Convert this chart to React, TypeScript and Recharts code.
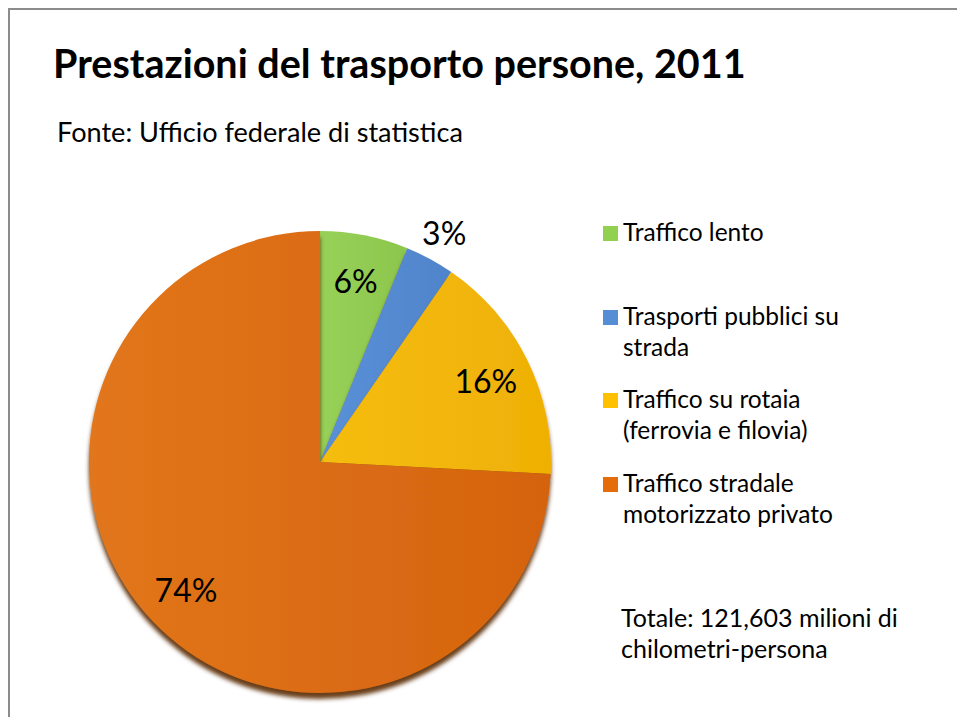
import { Cell, Legend, Pie, PieChart } from "recharts";

const categories = [
  "Traffico lento",
  "Trasporti pubblici su strada",
  "Traffico su rotaia (ferrovia e filovia)",
  "Traffico stradale motorizzato privato",
];
// milioni di chilometri-persona (stimati dalle quote del grafico)
const values = [7500, 4200, 19700, 90203];
const legendColors = ["#92d050", "#558ed5", "#ffc000", "#e46c0a"];
const sliceColors = [
  ["#97d159", "#8cc64c"],
  ["#5a91d8", "#4f84cb"],
  ["#f5bd10", "#efb005"],
  ["#e2761b", "#d5630e"],
];

const TITLE = "Prestazioni del trasporto persone, 2011";
const SUBTITLE = "Fonte: Ufficio federale di statistica";
const TOTAL_LINES = ["Totale: 121,603 milioni di", "chilometri-persona"];

const data = categories.map((name, i) => ({ name, value: values[i] }));

const FONT = "Lato, 'Open Sans', sans-serif";
const RAD = Math.PI / 180;

const renderLabel = (props: any) => {
  const { cx, cy, midAngle, outerRadius, percent } = props;
  const r = percent < 0.05 ? outerRadius + 30 : outerRadius * 0.8;
  const x = cx + r * Math.cos(-midAngle * RAD);
  const y = cy + r * Math.sin(-midAngle * RAD);
  return (
    <text
      x={x}
      y={y}
      textAnchor="middle"
      dominantBaseline="central"
      fontFamily={FONT}
      fontSize={32}
      fill="#000"
    >
      {`${Math.round(percent * 100)}%`}
    </text>
  );
};

const LegendContent = () => (
  <div style={{ fontFamily: FONT, fontSize: 24.5, lineHeight: "31px", color: "#000" }}>
    {categories.map((name, i) => (
      <div key={name} style={{ position: "relative", height: 83.5, paddingLeft: 20, width: 260 }}>
        <span
          style={{
            position: "absolute",
            left: 0,
            top: 10,
            width: 15,
            height: 15,
            background: legendColors[i],
          }}
        />
        {name}
      </div>
    ))}
  </div>
);

export default function App() {
  return (
    <>
      <style>{`html, body { margin: 0; overflow: hidden; }`}</style>
      <div
        style={{
          position: "absolute",
          left: 8,
          top: 8,
          width: 949,
          height: 709,
          overflow: "hidden",
          background: "#fff",
          borderLeft: "2px solid #8c8c8c",
          borderTop: "2px solid #8c8c8c",
          boxSizing: "border-box",
        }}
      >
        <svg width={949} height={709} style={{ position: "absolute", left: -2, top: -2 }}>
          <text x={45} y={70} fontFamily={FONT} fontWeight={700} fontSize={39.5} fill="#000">
            {TITLE}
          </text>
          <text x={49} y={134} fontFamily={FONT} fontSize={27.1} fill="#000">
            {SUBTITLE}
          </text>
          {TOTAL_LINES.map((t, i) => (
            <text key={t} x={613} y={619 + i * 31} fontFamily={FONT} fontSize={25} fill="#000">
              {t}
            </text>
          ))}
        </svg>
        <div style={{ position: "absolute", left: -2, top: -2 }}>
          <PieChart width={949} height={709} margin={{ top: 0, right: 0, bottom: 0, left: 0 }}>
            <defs>
              {sliceColors.map((c, i) => (
                <linearGradient key={i} id={`slice${i}`} x1="0" y1="0" x2="1" y2="0">
                  <stop offset="0%" stopColor={c[0]} />
                  <stop offset="100%" stopColor={c[1]} />
                </linearGradient>
              ))}
              <filter id="pieShadow" x="-10%" y="-10%" width="120%" height="125%">
                <feDropShadow dx="0" dy="6" stdDeviation="2" floodColor="#5a2c00" floodOpacity="0.9" />
              </filter>
            </defs>
            <Pie
              data={data}
              dataKey="value"
              nameKey="name"
              cx={312}
              cy={454}
              outerRadius={231}
              startAngle={90}
              endAngle={-270}
              stroke="none"
              label={renderLabel}
              labelLine={false}
              isAnimationActive={false}
              style={{ filter: "url(#pieShadow)" }}
            >
              {data.map((d, i) => (
                <Cell key={d.name} fill={`url(#slice${i})`} />
              ))}
            </Pie>
            <Legend
              content={<LegendContent />}
              wrapperStyle={{ left: 595, top: 208, width: 280 }}
            />
          </PieChart>
        </div>
      </div>
    </>
  );
}
